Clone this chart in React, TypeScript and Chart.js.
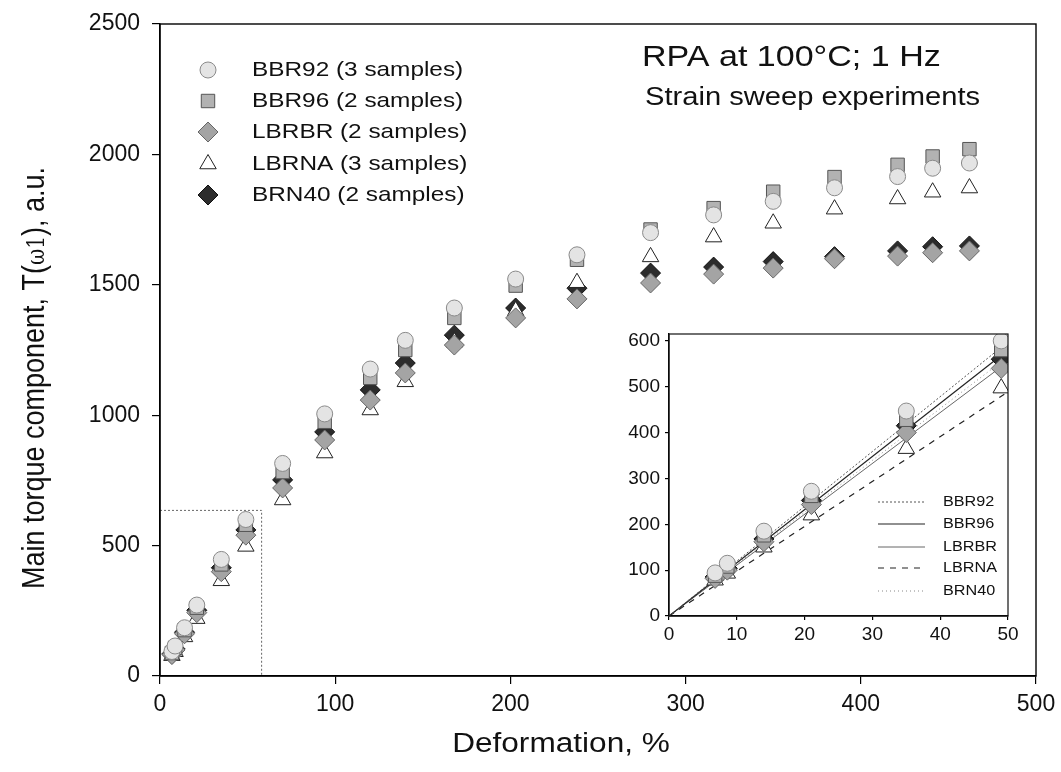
import React, { useEffect, useRef } from 'react';
import { Chart, registerables } from 'chart.js';

Chart.register(...registerables);

// ---------- data ----------
const deformation = [6.8, 8.6, 14, 21, 35, 49, 70, 94, 120, 140, 168, 203, 238, 280, 316, 350, 385, 421, 441, 462];
const seriesNames = ['BBR92', 'BBR96', 'LBRBR', 'LBRNA', 'BRN40'];
const sampleCounts = [3, 2, 2, 3, 2];
const bbr92 = [94, 115, 185, 272, 447, 600, 815, 1005, 1177, 1287, 1411, 1522, 1615, 1700, 1768, 1820, 1872, 1915, 1947, 1967];
const bbr96 = [88, 108, 176, 262, 428, 580, 782, 975, 1143, 1250, 1373, 1497, 1596, 1712, 1794, 1857, 1913, 1960, 1992, 2020];
const lbrbr = [82, 100, 162, 243, 400, 540, 721, 905, 1058, 1162, 1269, 1373, 1446, 1507, 1541, 1564, 1600, 1610, 1623, 1630];
const lbrna = [78, 93, 150, 220, 365, 497, 675, 855, 1020, 1128, 1280, 1400, 1508, 1607, 1683, 1736, 1790, 1829, 1855, 1871];
const brn40 = [85, 104, 168, 252, 415, 560, 752, 936, 1097, 1200, 1307, 1411, 1487, 1545, 1568, 1589, 1608, 1630, 1646, 1649];
const seriesValues = [bbr92, bbr96, lbrbr, lbrna, brn40];

// linear fits shown in the inset (value at fitEndX)
const fitEndX = 49.5;
const fitEndY = [592, 574, 549, 484, 560];

// dotted zoom box in the main chart
const zoomBoxX = 58;
const zoomBoxY = 635;

// ---------- styles ----------
const FONT = '"Liberation Sans", Arial, Helvetica, sans-serif';
const markerStyles = [
  { pointStyle: 'circle', radius: 8, bg: '#e4e4e4', border: '#8a8a8a' },
  { pointStyle: 'rect', radius: 9.5, bg: '#b2b2b2', border: '#555555' },
  { pointStyle: 'rectRot', radius: 10, bg: '#a4a4a4', border: '#666666' },
  { pointStyle: 'triangle', radius: 9.5, bg: '#ffffff', border: '#222222' },
  { pointStyle: 'rectRot', radius: 10, bg: '#2c2c2c', border: '#111111' },
];
const fitStyles = [
  { color: '#555555', dash: [2, 2], width: 1 },
  { color: '#222222', dash: [], width: 1.2 },
  { color: '#666666', dash: [], width: 1 },
  { color: '#222222', dash: [6, 6], width: 1.2 },
  { color: '#888888', dash: [1, 3], width: 1 },
];

function sText(ctx: CanvasRenderingContext2D, text: string, x: number, y: number, size: number, align: CanvasTextAlign = 'left', sx = 1.15) {
  ctx.save();
  ctx.translate(x, y);
  ctx.scale(sx, 1);
  ctx.font = `${size}px ${FONT}`;
  ctx.textAlign = align;
  ctx.textBaseline = 'middle';
  ctx.fillStyle = '#111';
  ctx.fillText(text, 0, 0);
  ctx.restore();
}

function marker(ctx: CanvasRenderingContext2D, i: number, x: number, y: number) {
  const m = markerStyles[i];
  const r = m.radius;
  ctx.save();
  ctx.beginPath();
  if (m.pointStyle === 'circle') {
    ctx.arc(x, y, r, 0, Math.PI * 2);
  } else if (m.pointStyle === 'rect') {
    const s = r * Math.SQRT1_2;
    ctx.rect(x - s, y - s, 2 * s, 2 * s);
  } else if (m.pointStyle === 'rectRot') {
    ctx.moveTo(x, y - r); ctx.lineTo(x + r, y); ctx.lineTo(x, y + r); ctx.lineTo(x - r, y); ctx.closePath();
  } else {
    for (let k = 0; k < 3; k++) {
      const a = (k * 2 * Math.PI) / 3;
      const px = x + Math.sin(a) * r, py = y - Math.cos(a) * r;
      if (k === 0) ctx.moveTo(px, py); else ctx.lineTo(px, py);
    }
    ctx.closePath();
  }
  ctx.fillStyle = m.bg;
  ctx.strokeStyle = m.border;
  ctx.lineWidth = 1;
  ctx.fill();
  ctx.stroke();
  ctx.restore();
}

function scatterDatasets() {
  return seriesNames.map((name, i) => ({
    label: name,
    data: deformation.map((d, k) => ({ x: d, y: seriesValues[i][k] })),
    pointStyle: markerStyles[i].pointStyle as any,
    pointRadius: markerStyles[i].radius,
    pointBackgroundColor: markerStyles[i].bg,
    pointBorderColor: markerStyles[i].border,
    pointBorderWidth: 1,
    showLine: false,
  }));
}

function axisCfg(min: number, max: number, step: number, tl: number, afterFit: (s: any) => void) {
  return {
    type: 'linear' as const,
    min, max,
    ticks: { stepSize: step, display: false, includeBounds: false },
    grid: { drawOnChartArea: false, drawTicks: true, tickLength: tl, color: '#000', lineWidth: 1.2 },
    border: { display: true, color: '#000', width: 1.4 },
    afterFit,
  };
}

export default function App() {
  const mainRef = useRef<HTMLCanvasElement>(null);
  const insetRef = useRef<HTMLCanvasElement>(null);

  useEffect(() => {
    const mainPlugin = {
      id: 'mainDecor',
      afterDraw(chart: any) {
        const ctx: CanvasRenderingContext2D = chart.ctx;
        const a = chart.chartArea;
        ctx.save();
        ctx.strokeStyle = '#000';
        ctx.lineWidth = 1.4;
        ctx.strokeRect(a.left, a.top, a.right - a.left, a.bottom - a.top);
        ctx.restore();
        const xs = chart.scales.x, ys = chart.scales.y;
        for (const t of xs.ticks) sText(ctx, String(t.value), xs.getPixelForValue(t.value), a.bottom + 29, 23, 'center', 1.0);
        for (const t of ys.ticks) sText(ctx, String(t.value), a.left - 20, ys.getPixelForValue(t.value), 23, 'right', 1.0);
        // axis titles
        sText(ctx, 'Deformation, %', 561, 745, 27, 'center', 1.17);
        ctx.save();
        ctx.translate(33, 378);
        ctx.rotate(-Math.PI / 2);
        ctx.scale(1, 1.17);
        ctx.fillStyle = '#111';
        ctx.textBaseline = 'alphabetic';
        const f1 = `27px ${FONT}`, f2 = `20px "DejaVu Serif", "Liberation Serif", serif`;
        const p1 = 'Main torque component, T(', p2 = 'ω1', p3 = '), a.u.';
        ctx.font = f1; const w1 = ctx.measureText(p1).width; const w3 = ctx.measureText(p3).width;
        ctx.font = f2; const w2 = ctx.measureText(p2).width;
        let x0 = -(w1 + w2 + w3) / 2;
        const base = 9.7;
        ctx.font = f1; ctx.fillText(p1, x0, base); x0 += w1;
        ctx.font = f2; ctx.fillText(p2, x0, base); x0 += w2;
        ctx.font = f1; ctx.fillText(p3, x0, base);
        ctx.restore();
        // titles
        sText(ctx, 'RPA at 100°C; 1 Hz', 642, 58, 30, 'left', 1.135);
        sText(ctx, 'Strain sweep experiments', 645, 98, 25, 'left', 1.165);
        // legend
        const rows = [70, 101, 132, 164, 195];
        seriesNames.forEach((n, i) => {
          marker(ctx, i, 208, rows[i]);
          sText(ctx, `${n} (${sampleCounts[i]} samples)`, 252, rows[i], 21, 'left', 1.16);
        });
      },
    };

    const insetPlugin = {
      id: 'insetDecor',
      afterDraw(chart: any) {
        const ctx: CanvasRenderingContext2D = chart.ctx;
        const a = chart.chartArea;
        ctx.save();
        ctx.strokeStyle = '#111';
        ctx.lineWidth = 1.2;
        ctx.strokeRect(a.left, a.top, a.right - a.left, a.bottom - a.top);
        ctx.restore();
        const xs = chart.scales.x, ys = chart.scales.y;
        for (const t of xs.ticks) sText(ctx, String(t.value), xs.getPixelForValue(t.value), a.bottom + 19, 19, 'center', 1.0);
        for (const t of ys.ticks) sText(ctx, String(t.value), a.left - 9, ys.getPixelForValue(t.value), 19, 'right', 1.0);
        const rows = [182, 204, 227, 248, 271];
        seriesNames.forEach((n, i) => {
          const st = fitStyles[i];
          ctx.save();
          ctx.strokeStyle = st.color;
          ctx.lineWidth = st.width;
          ctx.setLineDash(st.dash);
          ctx.beginPath();
          ctx.moveTo(278, rows[i]);
          ctx.lineTo(325, rows[i]);
          ctx.stroke();
          ctx.restore();
          sText(ctx, n, 343, rows[i], 15, 'left', 1.08);
        });
      },
    };

    const main = new Chart(mainRef.current!, {
      type: 'scatter',
      data: {
        datasets: [
          ...scatterDatasets(),
          {
            label: 'zoom',
            data: [{ x: 0, y: zoomBoxY }, { x: zoomBoxX, y: zoomBoxY }, { x: zoomBoxX, y: 0 }],
            showLine: true,
            pointRadius: 0,
            borderColor: '#666',
            borderWidth: 1,
            borderDash: [2, 2],
          } as any,
        ],
      },
      options: {
        animation: false,
        responsive: false,
        layout: { padding: { top: 24, right: 25, left: 0, bottom: 0 } },
        plugins: { legend: { display: false }, tooltip: { enabled: false } },
        scales: {
          x: axisCfg(0, 500, 100, 8, (s: any) => { s.height = 96; }),
          y: axisCfg(0, 2500, 500, 8, (s: any) => { s.width = 160; }),
        },
      },
      plugins: [mainPlugin],
    });

    const inset = new Chart(insetRef.current!, {
      type: 'scatter',
      data: {
        datasets: [
          ...scatterDatasets(),
          ...seriesNames.map((n, i) => ({
            label: n + ' fit',
            data: [{ x: 0, y: 0 }, { x: fitEndX, y: fitEndY[i] }],
            showLine: true,
            pointRadius: 0,
            borderColor: fitStyles[i].color,
            borderWidth: fitStyles[i].width,
            borderDash: fitStyles[i].dash,
          })) as any,
        ],
      },
      options: {
        animation: false,
        responsive: false,
        layout: { padding: { top: 14, right: 12, left: 0, bottom: 0 } },
        plugins: { legend: { display: false }, tooltip: { enabled: false } },
        scales: {
          x: axisCfg(0, 50, 10, 4, (s: any) => { s.height = 44; }),
          y: axisCfg(0, 615, 100, 4, (s: any) => { s.width = 69; }),
        },
      },
      plugins: [insetPlugin],
    });

    return () => {
      main.destroy();
      inset.destroy();
    };
  }, []);

  return (
    <div style={{ position: 'fixed', left: 0, top: 0, width: 1061, height: 772, background: '#fff' }}>
      <canvas ref={mainRef} width={1061} height={772} style={{ position: 'absolute', left: 0, top: 0, width: 1061, height: 772 }} />
      <canvas ref={insetRef} width={420} height={340} style={{ position: 'absolute', left: 600, top: 320, width: 420, height: 340 }} />
    </div>
  );
}
